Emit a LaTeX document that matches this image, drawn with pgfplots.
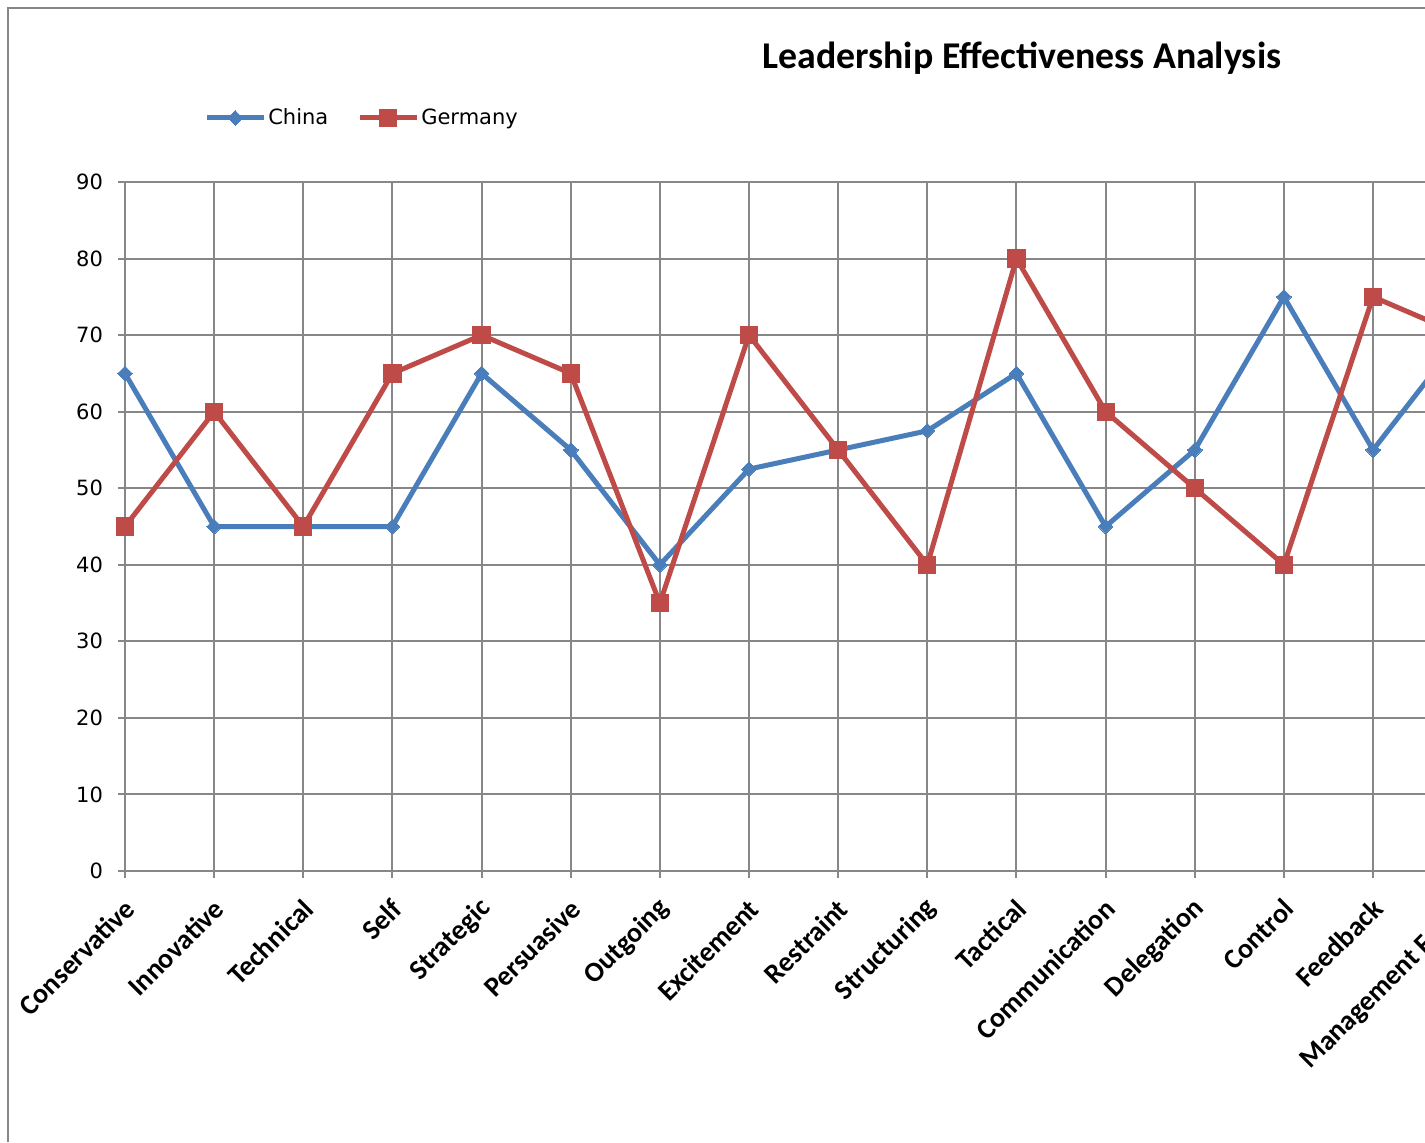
\documentclass[border=0pt]{standalone}
\usepackage{pgfplots}
\pgfplotsset{compat=1.18}
\usepackage{fontspec}
\setmainfont{DejaVu Sans}
\newfontfamily\carlito{Carlito}
\definecolor{cblue}{HTML}{4A7EBB}
\definecolor{cred}{HTML}{BE4B48}
\definecolor{gridgray}{HTML}{878787}

\begin{document}
\begin{tikzpicture}
\useasboundingbox (0,0) rectangle (712.5pt,571pt);
\clip (0,0) rectangle (712.5pt,571pt);
\fill[white] (0,0) rectangle (712.5pt,571pt);
\draw[gridgray, line width=1pt] (4pt,0pt) -- (4pt,567pt) -- (712.5pt,567pt);
\node[font=\carlito\bfseries\fontsize{18.9}{22}\selectfont, anchor=base, inner sep=0pt] at (511pt,536.5pt) {Leadership Effectiveness Analysis};
\begin{axis}[
  at={(62.5pt,135.5pt)}, anchor=south west,
  scale only axis, width=668.6pt, height=344.5pt,
  xmin=0, xmax=15, ymin=0, ymax=90,
  xtick={0,1,...,15},
  xticklabels={Conservative,Innovative,Technical,Self,Strategic,Persuasive,Outgoing,Excitement,Restraint,Structuring,Tactical,Communication,Delegation,Control,Feedback,Management Focus},
  ytick={0,10,...,90},
  /pgf/number format/assume math mode=true,
  grid=major, major grid style={gridgray, line width=1pt},
  axis lines*=left, axis line style={gridgray, line width=1pt, -},
  tick style={gridgray, line width=1pt}, tick align=outside, major tick length=3.5pt,
  xticklabel style={xshift=2.5pt, yshift=-13pt, rotate=45, anchor=east, inner sep=0pt,
    font=\carlito\bfseries\fontsize{14}{16}\selectfont},
  yticklabel style={font=\fontsize{10.5}{12}\selectfont, xshift=-4pt},
  legend style={at={(0.059,1.093)}, anchor=west, draw=none, fill=none,
    legend columns=-1, font=\fontsize{10.5}{12}\selectfont,
    nodes={inner xsep=1pt},
    /tikz/every even column/.append style={column sep=13.5pt}, inner sep=0pt},
  legend image code/.code={\draw[#1, mark repeat=2, mark phase=2] plot coordinates {(0pt,0pt) (14.25pt,0pt) (28.5pt,0pt)};},
  clip=false,
]
\addplot[cblue, line width=2.5pt, mark=square*, mark size=2.6pt, mark options={solid, fill=cblue, draw=cblue, line width=0pt, rotate=45}]
coordinates {(0,65) (1,45) (2,45) (3,45) (4,65) (5,55) (6,40) (7,52.5) (8,55) (9,57.5) (10,65) (11,45) (12,55) (13,75) (14,55) (15,70)};
\addlegendentry{China}
\addplot[cred, line width=2.5pt, mark=square*, mark size=4.3pt, mark options={solid, fill=cred, draw=cred, line width=0pt}]
coordinates {(0,45) (1,60) (2,45) (3,65) (4,70) (5,65) (6,35) (7,70) (8,55) (9,40) (10,80) (11,60) (12,50) (13,40) (14,75) (15,70)};
\addlegendentry{Germany}
\end{axis}
\end{tikzpicture}
\end{document}
